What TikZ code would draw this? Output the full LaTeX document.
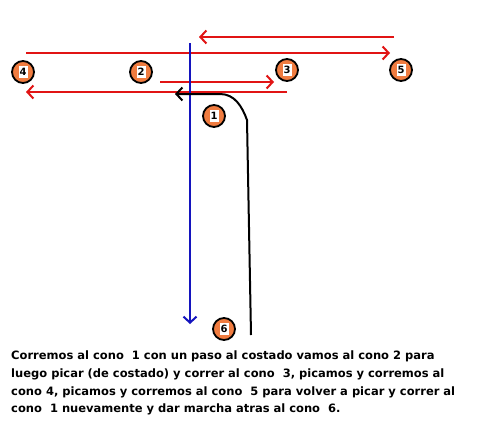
\documentclass[tikz,border=0pt]{standalone}
\usepackage{fontspec}
\setmainfont{DejaVu Sans}
\usetikzlibrary{arrows.meta}
\definecolor{conoorange}{RGB}{240,124,64}
\definecolor{redpath}{RGB}{225,20,20}
\definecolor{bluepath}{RGB}{20,20,190}
\tikzset{
  cono/.style={circle, draw=black, line width=1.8pt, fill=conoorange, minimum size=22pt, inner sep=0pt},
  cononum/.style={fill=white, inner sep=0pt, minimum width=9pt, minimum height=12pt, font=\bfseries\fontsize{10}{10}\selectfont},
  redrun/.style={draw=redpath, line width=2pt, -{Straight Barb[length=6pt,width=13pt]}},
  bluerun/.style={draw=bluepath, line width=2pt, -{Straight Barb[length=6pt,width=13pt]}},
  blackrun/.style={draw=black, line width=2pt, {Straight Barb[length=6pt,width=13pt]}-}
}
\begin{document}
\begin{tikzpicture}[x=1pt, y=-1pt]
  \useasboundingbox[fill=white] (0,0) rectangle (481,434);
  % conos
  \foreach \n/\x/\y in {1/214/116, 2/141/72, 3/287/70, 4/23/72, 5/401/70, 6/224/329} {
    \node[cono] (c\n) at (\x,\y) {};
    \node[cononum] at (c\n) {\n};
  }
  % corridas en rojo
  \coordinate (r1a) at (394,37);  \coordinate (r1b) at (199,37);
  \coordinate (r2a) at (26,53);   \coordinate (r2b) at (390,53);
  \coordinate (r3a) at (160,82);  \coordinate (r3b) at (274,82);
  \coordinate (r4a) at (287,92);  \coordinate (r4b) at (26,92);
  \draw[redrun] (r1a) -- (r1b);
  \draw[redrun] (r2a) -- (r2b);
  \draw[redrun] (r3a) -- (r3b);
  \draw[redrun] (r4a) -- (r4b);
  % marcha atras
  \coordinate (b1) at (190,43); \coordinate (b2) at (190,324);
  \draw[bluerun] (b1) -- (b2);
  % recorrido al cono 1
  \coordinate (k1) at (175,94); \coordinate (k2) at (251,335);
  \draw[blackrun] (k1) -- (220,94) to[out=0,in=110] (247,120) -- (k2);
  % texto
  \node[anchor=north west, align=left, inner sep=0pt, font=\bfseries\fontsize{11.5}{17.6}\selectfont] (txt) at (11,351)
    {Corremos al cono~ 1 con un paso al costado vamos al cono 2 para\\
     luego picar (de costado) y correr al cono~ 3, picamos y corremos al\\
     cono 4, picamos y corremos al cono~ 5 para volver a picar y correr al\\
     cono~ 1 nuevamente y dar marcha atras al cono~ 6.};
\end{tikzpicture}
\end{document}
